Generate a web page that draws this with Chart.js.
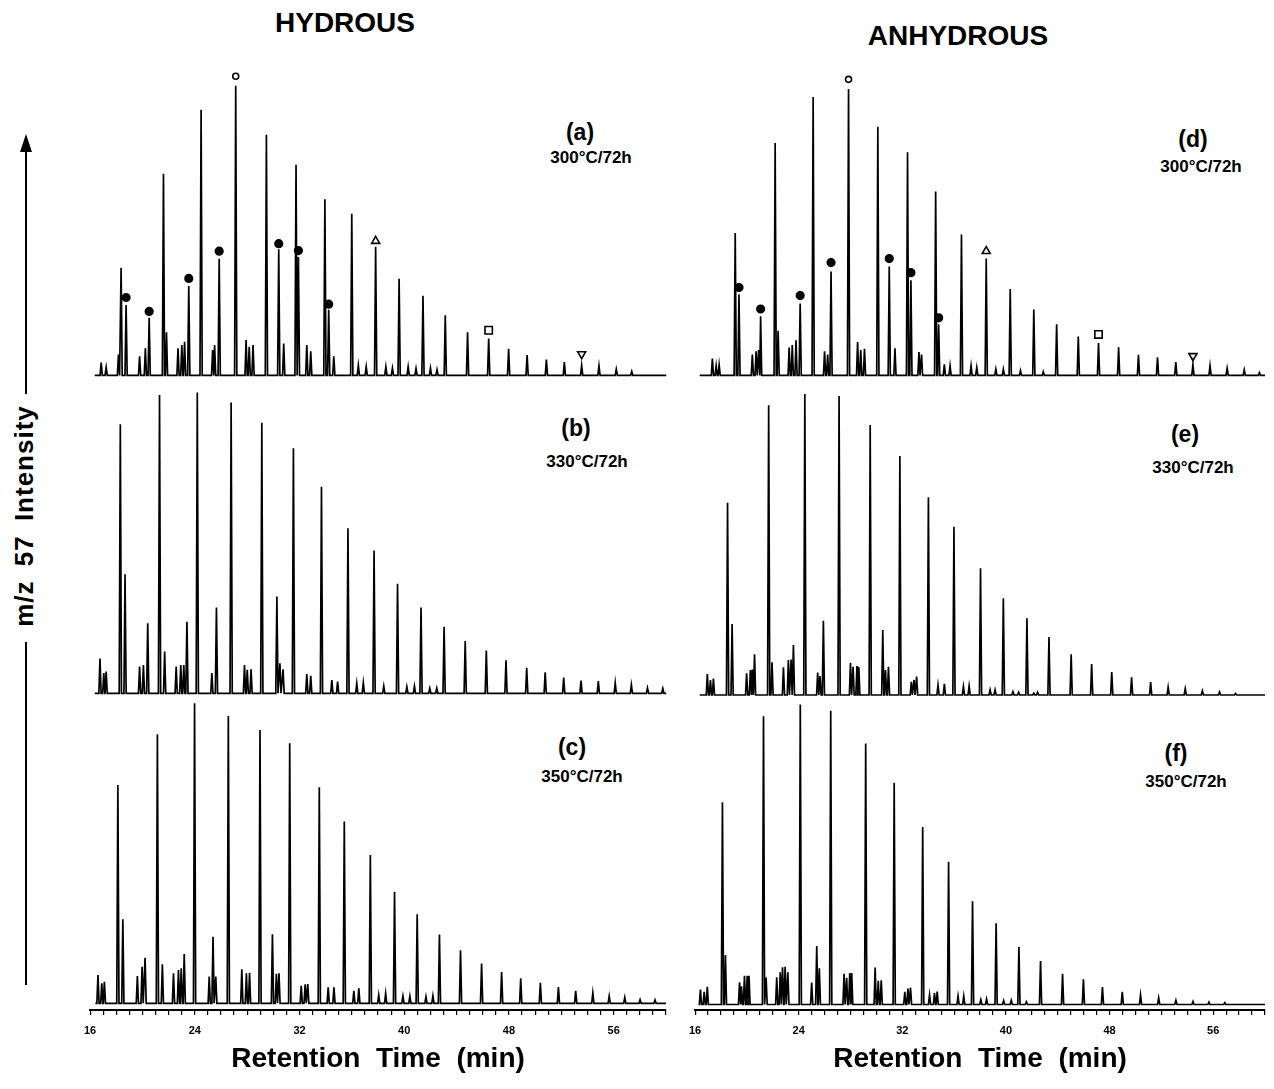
<!DOCTYPE html>
<html>
<head>
<meta charset="utf-8">
<title>m/z 57 mass chromatograms</title>
<script src="https://cdn.jsdelivr.net/npm/chart.js@4.4.1/dist/chart.umd.min.js"></script>
<style>
  html, body { margin: 0; padding: 0; background: #fff; overflow: hidden; }
  #page { position: relative; width: 1274px; height: 1089px; color: #000;
          font-family: "Liberation Sans", Arial, sans-serif; font-weight: bold; }
  canvas { position: absolute; }
  .txt { position: absolute; transform: translate(-50%, -50%); white-space: nowrap; }
  .head { font-size: 28px; }
  .tag { font-size: 23px; }
  .temp { font-size: 17px; }
  .bar { position: absolute; background: #000; width: 2px; }
</style>
</head>
<body>
<div id="page">
  <div class="txt head" style="left:345px; top:23px">HYDROUS</div>
  <div class="txt head" style="left:958px; top:36px">ANHYDROUS</div>

  <div class="txt tag" style="left:580px; top:132px">(a)</div>
  <div class="txt temp" style="left:591px; top:158px">300°C/72h</div>
  <div class="txt tag" style="left:576px; top:428px">(b)</div>
  <div class="txt temp" style="left:587px; top:462px">330°C/72h</div>
  <div class="txt tag" style="left:572px; top:747px">(c)</div>
  <div class="txt temp" style="left:582px; top:777px">350°C/72h</div>
  <div class="txt tag" style="left:1193px; top:139px">(d)</div>
  <div class="txt temp" style="left:1201px; top:167px">300°C/72h</div>
  <div class="txt tag" style="left:1185px; top:434px">(e)</div>
  <div class="txt temp" style="left:1193px; top:468px">330°C/72h</div>
  <div class="txt tag" style="left:1176px; top:753px">(f)</div>
  <div class="txt temp" style="left:1186px; top:782px">350°C/72h</div>

  <!-- y label with its arrow -->
  <div style="position:absolute; left:20px; top:134px; width:0; height:0;
              border-left:6px solid transparent; border-right:6px solid transparent; border-bottom:18px solid #000"></div>
  <div class="bar" style="left:25px; top:150px; height:244px"></div>
  <div class="bar" style="left:25px; top:642px; height:343px"></div>
  <div class="txt" style="left:24px; top:516px; font-size:26px; letter-spacing:1px; word-spacing:6px;
              transform:translate(-50%, -50%) rotate(-90deg)">m/z 57 Intensity</div>
</div>

<script>
/**
 * Data (retention time in min, relative intensity, tallest peak = 100)
 */
const tickLabels = [16, 24, 32, 40, 48, 56];

// (a) hydrous 300°C
const peaksA = [[16.89,4.4],[17.27,2.8],[18.21,7.2],[18.41,37.2],[18.79,24.3],[19.82,6.6],[20.26,9.4],[20.55,19.9],
  [21.64,69.6],[21.87,14.9],[22.75,9.4],[23.04,10.5],[23.25,11.6],[23.57,30.9],[24.51,91.7],[25.39,8.8],[25.54,10.5],
  [25.89,40.3],[27.15,100],[27.94,12.2],[28.18,9.9],[28.47,10.5],[29.49,83.1],[30.43,43.6],[30.81,11.0],[31.75,72.7],
  [31.93,40.9],[32.57,10.5],[32.87,8.3],[33.95,60.8],[34.24,22.7],[34.63,6.6],[36.00,55.8],[36.5,3.5],[37.1,3.0],
  [37.82,44.4],[38.6,3.0],[39.1,2.5],[39.61,33.4],[40.3,3.0],[40.9,2.4],[41.43,27.5],[42.0,2.5],[42.5,2.0],[43.13,20.8],
  [44.83,14.9],[46.44,12.7],[47.96,9.2],[49.37,7.0],[50.84,5.5],[52.21,4.6],[53.53,3.5],[54.85,3.3],[56.17,2.2],[57.35,1.4]];
const dotsA = [[18.79,26.9],[20.55,22.1],[23.57,33.5],[25.89,42.9],[30.43,45.5],[31.93,43.1],[34.24,24.6]];
const openA = [[27.15,103.3]];
const upA = [[37.82,46.4]];
const squareA = [[46.44,15.6]];
const downA = [[53.53,7.4]];

// (b) hydrous 330°C
const peaksB = [[16.80,11.6],[17.09,6.7],[17.27,7.2],[18.35,89.5],[18.71,39.6],[19.82,8.9],[20.11,9.4],[20.44,23.3],
  [21.34,99.2],[21.73,13.9],[22.61,8.9],[22.96,9.4],[23.19,9.4],[23.43,23.8],[24.22,100],[25.33,6.7],[25.68,28.5],
  [26.80,96.7],[27.82,9.4],[28.03,7.8],[28.32,8.0],[29.14,90.0],[30.29,32.2],[30.52,10.0],[30.76,8.0],[31.55,81.5],
  [32.57,6.4],[32.87,5.8],[33.69,68.7],[34.48,4.4],[34.92,3.9],[35.71,54.9],[36.38,3.3],[36.88,3.5],[37.70,47.5],
  [38.44,2.4],[39.49,36.4],[40.20,2.2],[40.78,2.4],[41.28,28.5],[41.95,1.7],[42.48,1.7],[43.04,22.1],[44.65,17.4],
  [46.26,14.2],[47.76,11.0],[49.34,8.5],[50.75,7.0],[52.16,5.2],[53.48,4.2],[54.80,4.1],[56.09,3.5],[57.32,2.9],
  [58.55,1.8],[59.72,1.6]];

// (c) hydrous 350°C
const peaksC = [[16.60,9.4],[16.89,6.7],[17.09,7.2],[18.12,72.8],[18.50,28.0],[19.61,9.1],[19.97,12.2],[20.20,15.2],
  [21.14,89.7],[21.52,13.0],[22.37,10.0],[22.75,11.1],[22.96,11.7],[23.19,16.4],[23.98,100],[25.10,8.9],[25.39,22.2],
  [25.60,8.9],[26.56,95.8],[27.59,11.3],[27.94,10.0],[28.18,10.2],[28.98,91.1],[29.93,23.0],[30.23,9.8],[30.43,10.0],
  [31.25,86.7],[32.13,5.8],[32.43,6.3],[32.63,6.4],[33.51,72.0],[34.19,5.3],[34.63,5.3],[35.42,60.6],[36.15,4.2],
  [36.53,5.0],[37.41,49.4],[38.05,2.8],[38.58,3.3],[39.26,37.2],[39.90,2.4],[40.43,2.4],[40.99,29.7],[41.66,2.2],
  [42.19,2.5],[42.69,22.9],[44.30,17.7],[45.91,13.3],[47.44,10.4],[48.90,8.3],[50.40,6.8],[51.78,5.4],[53.10,4.2],
  [54.41,3.5],[55.66,2.4],[56.85,2.0],[58.02,1.2],[59.16,1.1]];

// (d) anhydrous 300°C
const peaksD = [[17.38,5.9],[17.67,3.4],[17.90,3.7],[19.14,49.7],[19.43,28.3],[20.46,7.3],[20.75,8.4],[20.95,8.9],
  [21.10,20.7],[22.22,81.2],[22.45,15.6],[23.30,9.7],[23.54,10.6],[23.83,12.3],[24.15,25.1],[25.15,97.2],[26.03,8.4],
  [26.27,7.3],[26.53,36.3],[27.88,100],[28.58,11.7],[28.82,8.9],[29.11,9.3],[30.14,86.8],[31.02,38.0],[31.46,9.5],
  [32.43,77.9],[32.69,33.2],[33.31,8.2],[33.51,7.3],[34.60,64.2],[34.83,17.9],[35.27,3.9],[35.71,3.4],[36.59,49.2],
  [37.33,3.4],[37.77,2.8],[38.50,40.8],[39.24,2.2],[39.82,2.2],[40.35,30.2],[41.14,1.7],[42.17,23.0],[42.90,1.3],
  [43.93,17.9],[45.60,13.6],[47.16,11.3],[48.71,9.8],[50.24,7.2],[51.71,6.3],[53.12,4.7],[54.44,3.8],[55.76,3.4],
  [57.08,2.5],[58.40,2.0],[59.57,1.0]];
const dotsD = [[19.43,30.7],[21.10,23.2],[24.15,27.9],[26.53,39.4],[31.02,40.8],[32.69,35.9],[34.83,20.1]];
const openD = [[27.88,103.4]];
const upD = [[38.50,43.4]];
const squareD = [[47.16,14.3]];
const downD = [[54.44,6.8]];

// (e) anhydrous 330°C
const peaksE = [[16.99,7.0],[17.23,5.0],[17.46,5.5],[18.55,63.9],[18.90,23.6],[20.02,7.2],[20.31,8.3],[20.46,8.5],
  [20.63,13.5],[21.72,96.3],[21.98,10.9],[22.86,9.2],[23.24,11.6],[23.45,11.8],[23.63,16.6],[24.51,100],[25.50,7.5],
  [25.68,6.3],[25.94,24.7],[27.15,99.3],[28.03,10.7],[28.23,9.4],[28.53,9.6],[28.67,9.4],[29.55,89.7],[30.52,21.6],
  [30.73,8.3],[30.96,9.4],[31.84,79.4],[32.72,4.4],[32.93,5.0],[33.13,6.1],[34.04,65.7],[34.78,3.3],[35.27,3.7],
  [36.01,55.9],[36.74,2.8],[37.18,3.0],[38.06,42.1],[38.80,1.7],[39.18,1.7],[39.82,32.1],[40.56,1.1],[41.00,0.9],
  [41.64,25.5],[42.17,0.6],[42.46,0.9],[43.34,19.3],[45.05,13.5],[46.63,10.3],[48.18,7.6],[49.71,5.9],[51.18,4.3],
  [52.53,2.6],[53.85,2.1],[55.17,1.4],[56.49,1.0],[57.72,0.5]];

// (f) anhydrous 350°C
const peaksF = [[16.41,5.0],[16.70,4.2],[16.94,5.9],[18.11,67.4],[18.34,16.5],[19.43,7.4],[19.58,6.1],[19.81,9.6],
  [20.02,9.6],[20.16,9.6],[21.28,96.1],[21.48,9.0],[22.30,9.1],[22.57,10.7],[22.75,12.4],[22.95,12.6],[23.16,10.7],
  [24.12,100],[25.00,7.3],[25.39,19.5],[25.59,12.1],[26.47,97.9],[27.50,10.2],[27.70,8.9],[27.94,10.5],[28.09,10.5],
  [29.17,87.0],[29.90,12.3],[30.14,7.9],[30.37,8.1],[31.37,73.9],[32.19,4.2],[32.43,5.3],[32.63,5.6],[33.57,59.2],
  [34.10,3.2],[34.48,3.8],[34.69,4.3],[35.57,47.6],[36.30,2.8],[36.74,2.8],[37.42,34.4],[38.06,1.6],[38.50,1.8],
  [39.24,27.1],[39.82,1.3],[40.41,1.4],[41.00,19.2],[41.58,0.9],[42.67,14.5],[44.37,10.2],[45.98,8.4],[47.45,5.8],
  [48.98,4.2],[50.39,3.2],[51.79,2.2],[53.12,1.4],[54.44,1.0],[55.67,0.8],[56.90,0.6]];

/**
 * Layout (pixels on the page)
 */
const AXIS_H = 67;      // height reserved under the bottom row for ticks + title
const PEAK_W = 0.085;   // half width of a peak, min
const X_MIN = 16;
const X_MAX = 60;

const panels = [
  { peaks: peaksA, dots: dotsA, open: openA, up: upA, square: squareA, down: downA,
    left: 75, width: 600, top: 55, height: 340, baseY: 381.7, px100: 301.7, padL: 14.5, padR: 8.5, axis: false },
  { peaks: peaksB, left: 75, width: 600, top: 385, height: 320, baseY: 693.3, px100: 300.7, padL: 14.5, padR: 8.5, axis: false },
  { peaks: peaksC, left: 75, width: 600, top: 690, height: 320 + AXIS_H, baseY: 1003.3, px100: 300, padL: 14.5, padR: 8.5, axis: true },
  { peaks: peaksD, dots: dotsD, open: openD, up: upD, square: squareD, down: downD,
    left: 680, width: 594, top: 55, height: 340, baseY: 381.7, px100: 298.3, padL: 14.5, padR: 9, axis: false },
  { peaks: peaksE, left: 680, width: 594, top: 385, height: 320, baseY: 695, px100: 301, padL: 14.5, padR: 9, axis: false },
  { peaks: peaksF, left: 680, width: 594, top: 690, height: 320 + AXIS_H, baseY: 1004.5, px100: 300, padL: 14.5, padR: 9, axis: true }
];

/**
 * Methods
 */
// Turn a peak list into a stick trace on a flat baseline
const tracePoints = (peaks) => {
  const pts = [{ x: 16.4, y: 0 }];
  peaks.forEach(([t, h]) => {
    pts.push({ x: t - PEAK_W, y: 0 }, { x: t, y: h }, { x: t + PEAK_W, y: 0 });
  });
  pts.push({ x: X_MAX, y: 0 });
  return pts;
};

const toXY = (list) => (list || []).map(([t, h]) => ({ x: t, y: h }));

const markerSet = (list, style, radius, fill, rotation) => ({
  data: toXY(list),
  showLine: false,
  pointStyle: style,
  pointRadius: radius,
  pointRotation: rotation || 0,
  pointBackgroundColor: fill,
  pointBorderColor: '#000',
  pointBorderWidth: 1.6,
  clip: false
});

const xAxisFor = (p) => {
  if (!p.axis) return { type: 'linear', min: X_MIN, max: X_MAX, display: false };
  return {
    type: 'linear', min: X_MIN, max: X_MAX,
    afterFit: (scale) => { scale.height = AXIS_H; },
    border: { display: true, color: '#000', width: 2 },
    grid: { display: true, drawOnChartArea: false, drawTicks: true, tickLength: 5, color: '#000', lineWidth: 1.2 },
    ticks: {
      stepSize: 1, autoSkip: false, maxRotation: 0, padding: 9, color: '#000',
      font: { family: 'Liberation Sans', size: 11, weight: 'bold' },
      callback: (value) => tickLabels.includes(value) ? String(value) : ''
    },
    title: {
      display: true, text: 'Retention  Time  (min)', color: '#000',
      font: { family: 'Liberation Sans', size: 28, weight: 'bold' },
      padding: { top: 0, bottom: 1 }
    }
  };
};

const createPanel = (p) => {
  const canvas = document.createElement('canvas');
  canvas.width = p.width;
  canvas.height = p.height;
  canvas.style.left = p.left + 'px';
  canvas.style.top = p.top + 'px';
  document.getElementById('page').appendChild(canvas);

  // y range so that 0 sits on the panel baseline and 100 on the tallest peak
  const areaTop = p.top;
  const areaBottom = p.top + p.height - (p.axis ? AXIS_H : 0);
  const yMin = -(areaBottom - p.baseY) / p.px100 * 100;
  const yMax = (p.baseY - areaTop) / p.px100 * 100;

  const datasets = [{
    data: tracePoints(p.peaks),
    borderColor: '#000',
    borderWidth: 1.7,
    pointRadius: 0,
    tension: 0,
    fill: false
  }];
  if (p.dots) {
    datasets.push(markerSet(p.dots, 'circle', 3.8, '#000'));
    datasets.push(markerSet(p.open, 'circle', 3, '#fff'));
    datasets.push(markerSet(p.up, 'triangle', 4.6, '#fff'));
    datasets.push(markerSet(p.square, 'rect', 5.2, '#fff'));
    datasets.push(markerSet(p.down, 'triangle', 4.6, '#fff', 180));
  }

  new Chart(canvas.getContext('2d'), {
    type: 'line',
    data: { datasets },
    options: {
      responsive: false,
      animation: false,
      devicePixelRatio: 1,
      layout: { padding: { left: p.padL, right: p.padR, top: 0, bottom: 0 } },
      plugins: { legend: { display: false }, tooltip: { enabled: false } },
      scales: {
        x: xAxisFor(p),
        y: { type: 'linear', min: yMin, max: yMax, display: false }
      }
    }
  });
};

document.addEventListener('DOMContentLoaded', () => {
  panels.forEach(createPanel);
});
</script>
</body>
</html>
